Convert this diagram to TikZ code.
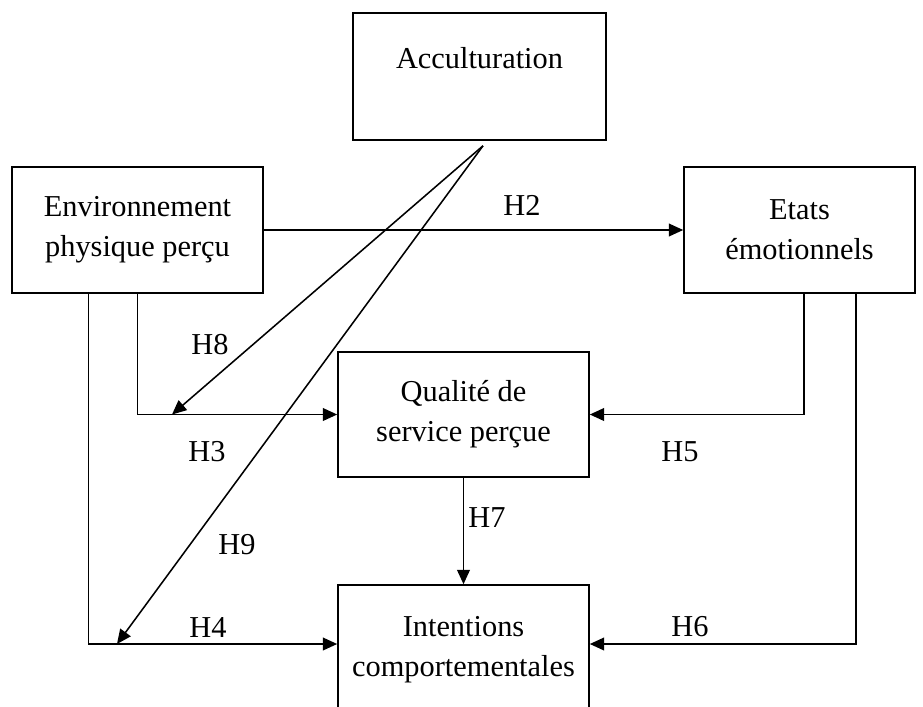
\documentclass[tikz,border=0pt]{standalone}
\usepackage{fontspec}
\setmainfont{Liberation Serif}
\usetikzlibrary{arrows.meta,calc}

\begin{document}
\begin{tikzpicture}[x=0.025cm, y=-0.025cm, line width=1.1pt,
    every node/.style={font=\fontsize{21.6}{28.5}\selectfont, align=center},
    box/.style={draw, minimum width=6.275cm, minimum height=3.15cm, inner sep=0pt},
    link/.style={-{Triangle[length=0.36cm,width=0.32cm]}},
    hyp/.style={inner sep=0pt}]

    \clip (0,0) rectangle (923,706);

    \node[box, minimum width=6.325cm, minimum height=3.175cm] (acc) at (479.5,76.5) {Acculturation\\[-0.4cm] \strut};
    \node[box] (env) at (137.5,230) {Environnement\\physique perçu};
    \node[box, minimum width=5.775cm] (etats) at (799.5,230) {Etats\\émotionnels};
    \node[box, minimum height=3.125cm] (qual) at (463.5,414.5) {Qualité de\\service perçue};
    \node[box, minimum height=3.25cm] (intent) at (463.5,650) {Intentions\\comportementales};

    \coordinate (apex) at ([shift={(3.5,5)}]acc.south);
    \coordinate (h4s) at ([xshift=-1.225cm]env.south);
    \coordinate (h4e) at ([yshift=0.15cm]intent.west);
    \coordinate (h6s) at ([xshift=1.4125cm]etats.south);
    \coordinate (h6e) at ([yshift=0.15cm]intent.east);

    \draw[link] (env) -- (etats);
    \draw[link] (env.south) |- (qual.west);
    \draw[link] (h4s) |- (h4e);
    \draw[link] ([xshift=0.1125cm]etats.south) |- (qual.east);
    \draw[link] (h6s) |- (h6e);
    \draw[link] (qual) -- (intent);
    \draw[link] (apex) -- ($(env.south |- qual.west)+(34.5,0)$);
    \draw[link] (apex) -- ($(h4s |- h4e)+(28.5,0)$);

    \node[hyp] (h2) at (522,205) {H2};
    \node[hyp] (h3) at (207,452) {H3};
    \node[hyp] (h4) at (208,627) {H4};
    \node[hyp] (h5) at (680,452) {H5};
    \node[hyp] (h6) at (690,627) {H6};
    \node[hyp] (h7) at (487,518) {H7};
    \node[hyp] (h8) at (210,345) {H8};
    \node[hyp] (h9) at (237,545) {H9};
\end{tikzpicture}
\end{document}
